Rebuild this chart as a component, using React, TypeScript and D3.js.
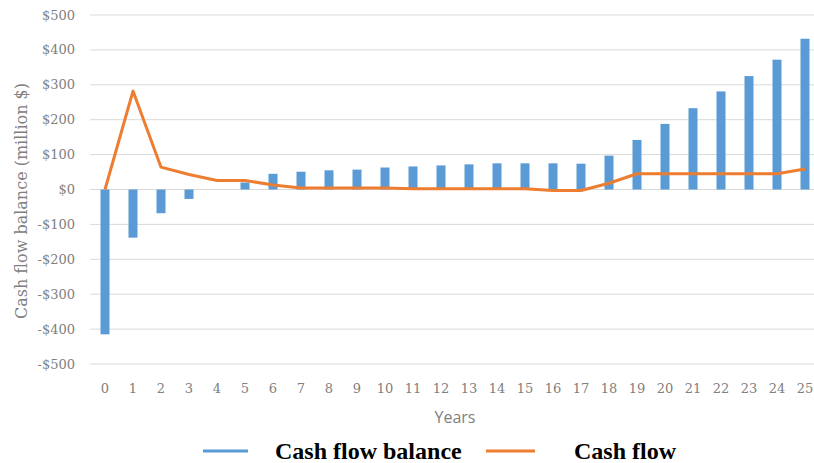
import React from "react";
import * as d3 from "d3";

const years = ["0","1","2","3","4","5","6","7","8","9","10","11","12","13","14","15","16","17","18","19","20","21","22","23","24","25"];
const balance = [-415,-138,-68,-27,0,20,45,51,55,57,63,66,69,72,75,75,75,74,97,142,188,233,281,325,372,432];
const cashFlow = [0,282,64,43,26,26,13,4,4,4,4,2,2,2,2,2,-3,-3,18,45,45,45,45,45,45,59];
const yTicks = [500,400,300,200,100,0,-100,-200,-300,-400,-500];

const W = 814, H = 463;

export default function App() {
  const x = d3.scaleBand<string>().domain(years).range([91, 819]);
  const y = d3.scaleLinear().domain([-500, 500]).range([364, 15]);
  const fmt = (v: number) => (v < 0 ? "-$" + Math.abs(v) : "$" + v);
  const line = d3.line<number>()
    .x((_, i) => (x(years[i]) as number) + x.bandwidth() / 2)
    .y(d => y(d));
  const bw = 9;
  const serif = "'DejaVu Serif', serif";
  const legendFont = "'Liberation Serif', 'Times New Roman', serif";
  return (
    <svg width={W} height={H} style={{ position: "absolute", left: 0, top: 0, background: "#fff" }}>
      {yTicks.map(t => (
        <g key={t}>
          <line x1={90} x2={814} y1={y(t)} y2={y(t)} stroke="#d9d9d9" strokeWidth={1} />
          <text x={75} y={y(t)} dy="0.35em" textAnchor="end" fontFamily={serif} fontSize={13} fill="#808080">{fmt(t)}</text>
        </g>
      ))}
      {balance.map((v, i) => (
        <rect key={i} x={(x(years[i]) as number) + x.bandwidth() / 2 - bw / 2} width={bw}
          y={Math.min(y(v), y(0))} height={Math.abs(y(v) - y(0))} fill="#5b9bd5" />
      ))}
      <path d={line(cashFlow) || ""} fill="none" stroke="#ed7d31" strokeWidth={3} strokeLinejoin="round" />
      {years.map(t => (
        <text key={t} x={(x(t) as number) + x.bandwidth() / 2} y={388} dy="0.35em" textAnchor="middle"
          fontFamily={serif} fontSize={13} fill="#808080">{t}</text>
      ))}
      <text x={455} y={417} dy="0.35em" textAnchor="middle" fontFamily="'Open Sans', sans-serif" fontSize={16} fill="#808080">Years</text>
      <text transform={`translate(21,201) rotate(-90)`} textAnchor="middle" dy="0.35em" fontFamily={serif} fontSize={16} fill="#808080">Cash flow balance (million $)</text>
      <line x1={203} x2={248} y1={451} y2={451} stroke="#5b9bd5" strokeWidth={3} />
      <text x={275} y={459} fontFamily={legendFont} fontWeight="bold" fontSize={24} fill="#000">Cash flow balance</text>
      <line x1={486} x2={535} y1={451} y2={451} stroke="#ed7d31" strokeWidth={3} />
      <text x={574} y={459} fontFamily={legendFont} fontWeight="bold" fontSize={24} fill="#000">Cash flow</text>
    </svg>
  );
}
